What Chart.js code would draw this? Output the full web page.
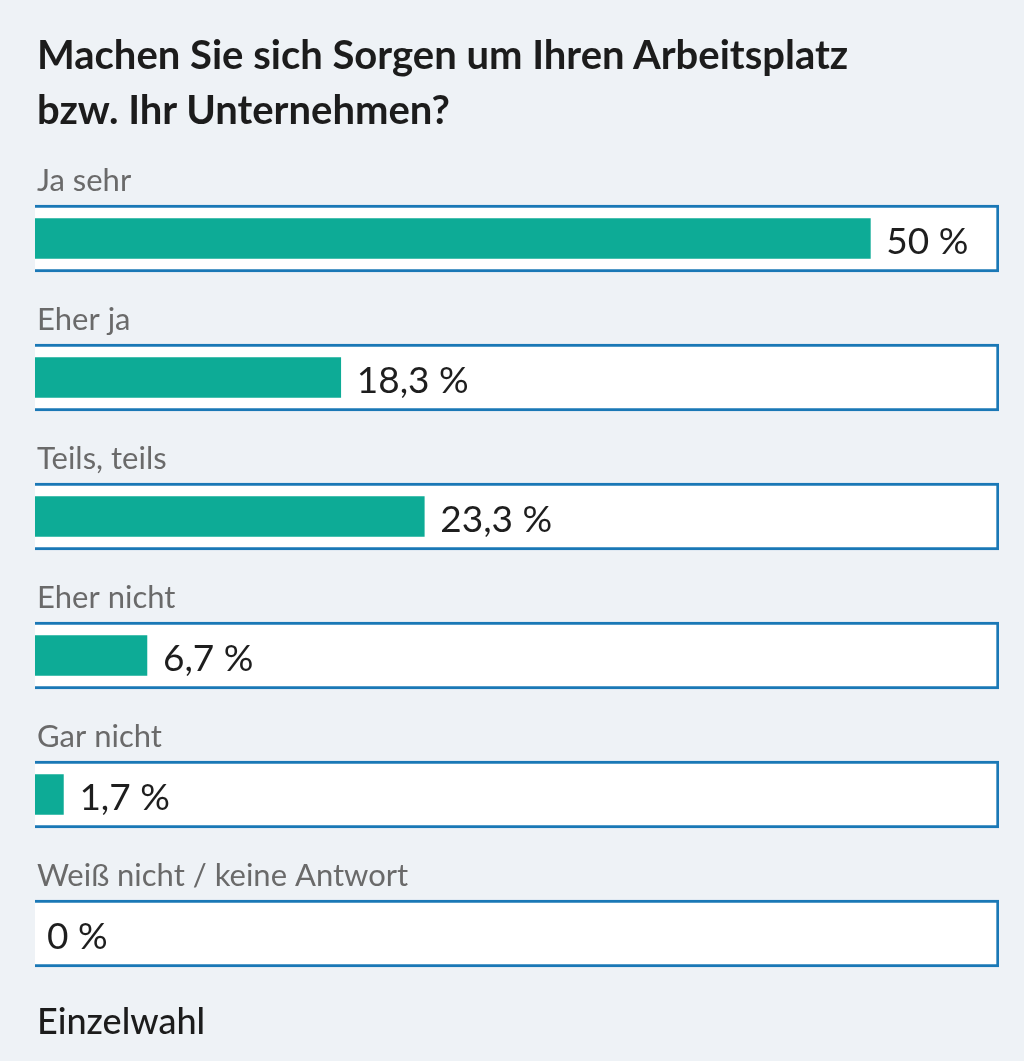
<!DOCTYPE html>
<html>
<head>
<meta charset="utf-8">
<script src="https://cdn.jsdelivr.net/npm/chart.js@4/dist/chart.umd.min.js"></script>
<style>
  html, body { margin: 0; padding: 0; background: #eef2f6; }
  #wrap { position: relative; width: 1024px; height: 1061px; font-family: "Lato", "Noto Sans", sans-serif; }
  #title { position: absolute; left: 37px; top: 27px; margin: 0; font-size: 40px; font-weight: 700; line-height: 55px; color: #1c1c1c; }
  #foot { position: absolute; left: 37px; top: 998px; margin: 0; font-size: 36px; font-weight: 500; color: #1c1c1c; line-height: 44px; }
  #cv { position: absolute; left: 0; top: 0; }
</style>
</head>
<body>
<div id="wrap">
  <canvas id="cv" width="1024" height="1061"></canvas>
  <h1 id="title">Machen Sie sich Sorgen um Ihren Arbeitsplatz<br>bzw. Ihr Unternehmen?</h1>
  <p id="foot">Einzelwahl</p>
</div>
<script>
const categories = ["Ja sehr", "Eher ja", "Teils, teils", "Eher nicht", "Gar nicht", "Weiß nicht / keine Antwort"];
const values = [50, 18.3, 23.3, 6.7, 1.7, 0];
const valueLabels = ["50 %", "18,3 %", "23,3 %", "6,7 %", "1,7 %", "0 %"];
const axisMax = 57.7;

const labelPlugin = {
  id: 'labels',
  afterDatasetsDraw(chart) {
    const ctx = chart.ctx;
    const x = chart.scales.x, y = chart.scales.y;
    ctx.save();
    categories.forEach((c, i) => {
      const cy = y.getPixelForValue(i);
      ctx.font = '31px Lato, "Noto Sans", sans-serif';
      ctx.fillStyle = '#6a6a6a';
      ctx.textBaseline = 'middle';
      ctx.textAlign = 'left';
      ctx.fillText(c, x.left + 2, cy - 58);
      ctx.font = '37px Lato, "Noto Sans", sans-serif';
      ctx.fillStyle = '#1e1e1e';
      const bx = x.getPixelForValue(values[i]);
      ctx.fillText(valueLabels[i], bx + (values[i] > 0 ? 16 : 12), cy + 4);
    });
    ctx.restore();
  }
};

new Chart(document.getElementById('cv'), {
  type: 'bar',
  data: {
    labels: categories,
    datasets: [
      {
        data: values,
        backgroundColor: (c) => (c.raw > 0 ? '#0dab96' : 'rgba(0,0,0,0)'),
        barThickness: 40,
        grouped: false,
        order: 1
      },
      {
        data: categories.map(() => axisMax),
        backgroundColor: '#ffffff',
        borderColor: '#1a78b6',
        borderWidth: 3,
        borderSkipped: 'start',
        barThickness: 67,
        grouped: false,
        order: 2
      }
    ]
  },
  options: {
    indexAxis: 'y',
    responsive: false,
    animation: false,
    devicePixelRatio: 1,
    layout: { padding: { left: 35, right: 25, top: 169, bottom: 58 } },
    scales: {
      x: { display: false, min: 0, max: axisMax },
      y: { display: false }
    },
    plugins: { legend: { display: false }, tooltip: { enabled: false }, title: { display: false } }
  },
  plugins: [labelPlugin]
});
</script>
</body>
</html>
